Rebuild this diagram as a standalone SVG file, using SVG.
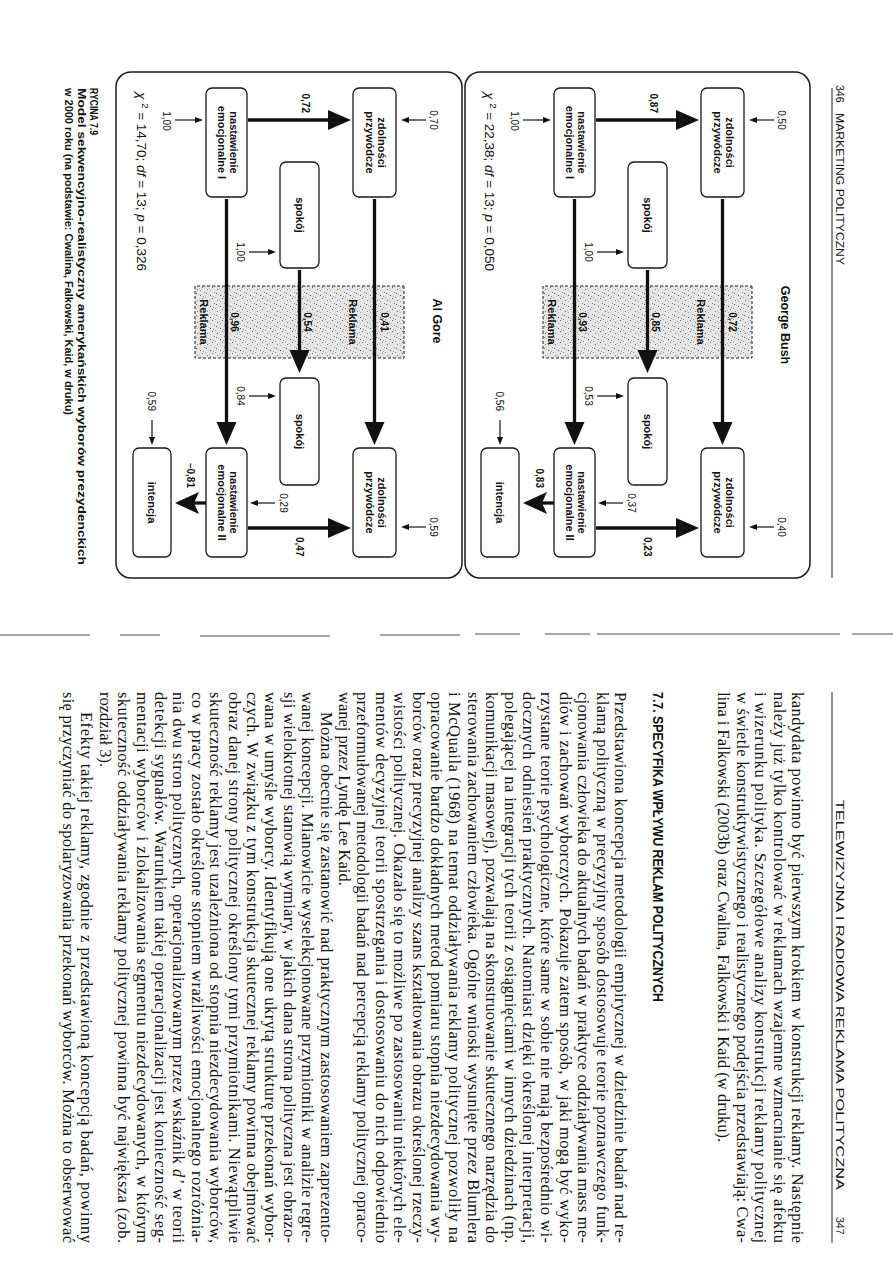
<svg xmlns="http://www.w3.org/2000/svg" width="893" height="1263" viewBox="0 0 893 1263">
<style>
.panel{fill:none;stroke:#1a1a1a;stroke-width:1.5}
.box{fill:#fff;stroke:#1a1a1a;stroke-width:1.3}
.bt{font-family:'Liberation Sans',Arial,sans-serif;font-weight:bold;font-size:11px;text-anchor:middle;fill:#111}
.coef{font-family:'Liberation Sans',Arial,sans-serif;font-weight:bold;font-size:10px;fill:#111}
.res{font-family:'Liberation Sans',Arial,sans-serif;font-size:10px;fill:#111}
.mid{text-anchor:middle}
.end{text-anchor:end}
.title{font-family:'Liberation Sans',Arial,sans-serif;font-weight:bold;font-size:12.5px;text-anchor:middle;fill:#111}
.chi{font-family:'Liberation Sans',Arial,sans-serif;font-size:13.5px;fill:#111}
.cap{font-family:'Liberation Sans',Arial,sans-serif;font-weight:bold;font-size:11.5px;fill:#111}
.hdr{font-family:'Liberation Sans',Arial,sans-serif;font-size:10.5px;fill:#111}
.body{font-family:'Liberation Serif','Times New Roman',serif;font-size:16.5px;fill:#111}
.head{font-family:'Liberation Sans',Arial,sans-serif;font-weight:bold;font-size:15.5px;fill:#111}
.thick{stroke:#111;stroke-width:3.3;fill:none}
.thin{stroke:#111;stroke-width:1.2;fill:none}
.rek{fill:url(#stip);stroke:#222;stroke-width:1;stroke-dasharray:3 2}
.rule{stroke:#222;stroke-width:1}
.gut{stroke:#8a8a8a;stroke-width:1.6}
</style>
<defs>
<marker id="big" markerUnits="userSpaceOnUse" markerWidth="24" markerHeight="22" refX="1" refY="11" orient="auto"><path d="M0,1 L23,11 L0,21 Z" fill="#111"/></marker>
<marker id="small" markerUnits="userSpaceOnUse" markerWidth="9" markerHeight="7" refX="1" refY="3.5" orient="auto"><path d="M0,0.5 L8,3.5 L0,6.5 Z" fill="#111"/></marker>
<pattern id="stip" width="11" height="10" patternUnits="userSpaceOnUse"><rect width="11" height="10" fill="#e6e6e6"/><rect x="1" y="2" width="1" height="1" fill="#666"/><rect x="6" y="0" width="1" height="1" fill="#888"/><rect x="9" y="4" width="1" height="1" fill="#555"/><rect x="3" y="7" width="1" height="1" fill="#777"/><rect x="0" y="9" width="1" height="1" fill="#999"/><rect x="7" y="8" width="1" height="1" fill="#666"/><rect x="4" y="4" width="1" height="1" fill="#aaa"/><rect x="10" y="1" width="1" height="1" fill="#999"/><rect x="2" y="5" width="1" height="1" fill="#bbb"/><rect x="8" y="6" width="1" height="1" fill="#bbb"/></pattern>
</defs>
<rect width="893" height="1263" fill="#fff"/>
<g id="gutter">
<line class="gut" x1="0" y1="635" x2="90" y2="635"/><line class="gut" x1="120" y1="635" x2="160" y2="635"/><line class="gut" x1="200" y1="636" x2="330" y2="636"/><line class="gut" x1="380" y1="635" x2="460" y2="635"/><line class="gut" x1="475" y1="634" x2="520" y2="634"/><line class="gut" x1="545" y1="634" x2="590" y2="634"/><line class="gut" x1="597" y1="634" x2="840" y2="634"/><line class="gut" x1="852" y1="634" x2="893" y2="634"/>
</g>
<g id="page" transform="translate(893,0) rotate(90)">
<g id="headers">
<text class="hdr" x="85" y="57">346</text>
<text class="hdr" x="113" y="57" textLength="152" lengthAdjust="spacingAndGlyphs">MARKETING POLITYCZNY</text>
<line class="rule" x1="88" y1="61" x2="578" y2="61"/>
<text class="hdr" x="800" y="57" textLength="390" lengthAdjust="spacingAndGlyphs">TELEWIZYJNA I RADIOWA REKLAMA POLITYCZNA</text>
<text class="hdr" x="1217" y="57">347</text>
<line class="rule" x1="692" y1="61" x2="1243" y2="61"/>
</g>
<g id="bush-panel">
<rect class="panel" x="72" y="83" width="506" height="345" rx="15"/>
<text class="title" x="325" y="112">George Bush</text>
<rect class="rek" x="286" y="141" width="72" height="209"/>
<text class="chi" x="92" y="408"><tspan font-style="italic">χ</tspan> <tspan font-size="9.5px" dy="-5">2</tspan><tspan dy="5"> = 22,38; </tspan><tspan font-style="italic">df</tspan> = 13; <tspan font-style="italic">p</tspan> = 0,050</text>
<g id="bush-connectors">
<line class="thick" x1="199" y1="170.5" x2="423" y2="170.5" marker-end="url(#big)"/>
<line class="thick" x1="270" y1="245.5" x2="351" y2="245.5" marker-end="url(#big)"/>
<line class="thick" x1="199" y1="318.5" x2="423" y2="318.5" marker-end="url(#big)"/>
<line class="thick" x1="120" y1="297" x2="120" y2="216" marker-end="url(#big)"/>
<line class="thick" x1="528" y1="297" x2="528" y2="216" marker-end="url(#big)"/>
<line class="thick" x1="503" y1="339" x2="503" y2="352"/>
<path d="M503,370 L492,346 L503,351 L514,346 Z" fill="#111"/>
<line class="thin" x1="120" y1="119" x2="120" y2="137" marker-end="url(#small)"/>
<line class="thin" x1="120" y1="370" x2="120" y2="349" marker-end="url(#small)"/>
<line class="thin" x1="252" y1="296" x2="252" y2="276" marker-end="url(#small)"/>
<line class="thin" x1="396" y1="296" x2="396" y2="276" marker-end="url(#small)"/>
<line class="thin" x1="503" y1="270" x2="503" y2="288" marker-end="url(#small)"/>
<line class="thin" x1="527" y1="119" x2="527" y2="137" marker-end="url(#small)"/>
<line class="thin" x1="420" y1="393" x2="438" y2="393" marker-end="url(#small)"/>
<text class="coef mid" x="322" y="164.5">0,72</text>
<text class="coef mid" x="322" y="241">0,85</text>
<text class="coef mid" x="322" y="314.5">0,93</text>
<text class="bt" x="322" y="196">Reklama</text>
<text class="bt" x="322" y="345">Reklama</text>
<text class="coef end" x="113" y="243">0,87</text>
<text class="coef" x="537" y="249">0,23</text>
<text class="coef end" x="488" y="357">0,83</text>
<text class="res mid" x="120" y="115">0,50</text>
<text class="res mid" x="121" y="382">1,00</text>
<text class="res mid" x="252" y="308">1,00</text>
<text class="res mid" x="396" y="308">0,53</text>
<text class="res mid" x="503" y="265">0,37</text>
<text class="res mid" x="527" y="115">0,40</text>
<text class="res end" x="411" y="397">0,56</text>
</g>
<g id="bush-zdolnosci-1"><rect class="box" x="88" y="149" width="109" height="43" rx="6"/><text class="bt" x="142.5" y="167.5">zdolności</text><text class="bt" x="142.5" y="179.5">przywódcze</text></g>
<g id="bush-nastawienie-1"><rect class="box" x="88" y="298" width="109" height="41" rx="6"/><text class="bt" x="142.5" y="315.5">nastawienie</text><text class="bt" x="142.5" y="327.5">emocjonalne I</text></g>
<g id="bush-spokoj-1"><rect class="box" x="162" y="226" width="106" height="39" rx="6"/><text class="bt" x="215" y="249">spokój</text></g>
<g id="bush-spokoj-2"><rect class="box" x="378" y="226" width="107" height="39" rx="6"/><text class="bt" x="431.5" y="249">spokój</text></g>
<g id="bush-zdolnosci-2"><rect class="box" x="448" y="149" width="109" height="43" rx="6"/><text class="bt" x="502.5" y="167.5">zdolności</text><text class="bt" x="502.5" y="179.5">przywódcze</text></g>
<g id="bush-nastawienie-2"><rect class="box" x="448" y="298" width="109" height="41" rx="6"/><text class="bt" x="502.5" y="315.5">nastawienie</text><text class="bt" x="502.5" y="327.5">emocjonalne II</text></g>
<g id="bush-intencja"><rect class="box" x="448" y="374" width="109" height="38" rx="6"/><text class="bt" x="502.5" y="397">intencja</text></g>
</g>
<g id="gore-panel" transform="translate(0,348)">
<rect class="panel" x="72" y="83" width="506" height="346" rx="15"/>
<text class="title" x="321" y="112">Al Gore</text>
<rect class="rek" x="286" y="141" width="72" height="209"/>
<text class="chi" x="92" y="408"><tspan font-style="italic">χ</tspan> <tspan font-size="9.5px" dy="-5">2</tspan><tspan dy="5"> = 14,70; </tspan><tspan font-style="italic">df</tspan> = 13; <tspan font-style="italic">p</tspan> = 0,326</text>
<g id="gore-connectors">
<line class="thick" x1="199" y1="170.5" x2="423" y2="170.5" marker-end="url(#big)"/>
<line class="thick" x1="270" y1="245.5" x2="351" y2="245.5" marker-end="url(#big)"/>
<line class="thick" x1="199" y1="318.5" x2="423" y2="318.5" marker-end="url(#big)"/>
<line class="thick" x1="120" y1="297" x2="120" y2="216" marker-end="url(#big)"/>
<line class="thick" x1="528" y1="297" x2="528" y2="216" marker-end="url(#big)"/>
<line class="thick" x1="503" y1="339" x2="503" y2="352"/>
<path d="M503,370 L492,346 L503,351 L514,346 Z" fill="#111"/>
<line class="thin" x1="120" y1="119" x2="120" y2="137" marker-end="url(#small)"/>
<line class="thin" x1="120" y1="370" x2="120" y2="349" marker-end="url(#small)"/>
<line class="thin" x1="252" y1="296" x2="252" y2="276" marker-end="url(#small)"/>
<line class="thin" x1="396" y1="296" x2="396" y2="276" marker-end="url(#small)"/>
<line class="thin" x1="503" y1="270" x2="503" y2="288" marker-end="url(#small)"/>
<line class="thin" x1="527" y1="119" x2="527" y2="137" marker-end="url(#small)"/>
<line class="thin" x1="420" y1="393" x2="438" y2="393" marker-end="url(#small)"/>
<text class="coef mid" x="322" y="164.5">0,41</text>
<text class="coef mid" x="322" y="241">0,54</text>
<text class="coef mid" x="322" y="314.5">0,96</text>
<text class="bt" x="322" y="196">Reklama</text>
<text class="bt" x="322" y="345">Reklama</text>
<text class="coef end" x="113" y="243">0,72</text>
<text class="coef" x="537" y="249">0,47</text>
<text class="coef end" x="488" y="358">–0,81</text>
<text class="res mid" x="120" y="115">0,70</text>
<text class="res mid" x="121" y="382">1,00</text>
<text class="res mid" x="252" y="308">1,00</text>
<text class="res mid" x="396" y="308">0,84</text>
<text class="res mid" x="503" y="265">0,29</text>
<text class="res mid" x="527" y="115">0,59</text>
<text class="res end" x="411" y="397">0,59</text>
</g>
<g id="gore-zdolnosci-1"><rect class="box" x="88" y="149" width="109" height="43" rx="6"/><text class="bt" x="142.5" y="167.5">zdolności</text><text class="bt" x="142.5" y="179.5">przywódcze</text></g>
<g id="gore-nastawienie-1"><rect class="box" x="88" y="298" width="109" height="41" rx="6"/><text class="bt" x="142.5" y="315.5">nastawienie</text><text class="bt" x="142.5" y="327.5">emocjonalne I</text></g>
<g id="gore-spokoj-1"><rect class="box" x="162" y="226" width="106" height="39" rx="6"/><text class="bt" x="215" y="249">spokój</text></g>
<g id="gore-spokoj-2"><rect class="box" x="378" y="226" width="107" height="39" rx="6"/><text class="bt" x="431.5" y="249">spokój</text></g>
<g id="gore-zdolnosci-2"><rect class="box" x="448" y="149" width="109" height="43" rx="6"/><text class="bt" x="502.5" y="167.5">zdolności</text><text class="bt" x="502.5" y="179.5">przywódcze</text></g>
<g id="gore-nastawienie-2"><rect class="box" x="448" y="298" width="109" height="41" rx="6"/><text class="bt" x="502.5" y="315.5">nastawienie</text><text class="bt" x="502.5" y="327.5">emocjonalne II</text></g>
<g id="gore-intencja"><rect class="box" x="448" y="374" width="109" height="38" rx="6"/><text class="bt" x="502.5" y="397">intencja</text></g>
</g>
<g id="caption">
<text class="cap" x="88" y="803" textLength="47" lengthAdjust="spacingAndGlyphs">RYCINA 7.9</text>
<text class="cap" x="88" y="815.5" textLength="477" lengthAdjust="spacingAndGlyphs">Model sekwencyjno-realistyczny amerykańskich wyborów prezydenckich</text>
<text class="cap" x="88" y="828" textLength="327" lengthAdjust="spacingAndGlyphs">w 2000 roku (na podstawie: Cwalina, Falkowski, Kaid, w druku)</text>
</g>
<g id="text-347">
<text class="body" x="692" y="101" textLength="551" lengthAdjust="spacing">kandydata powinno być pierwszym krokiem w konstrukcji reklamy. Następnie</text>
<text class="body" x="692" y="119.4" textLength="551" lengthAdjust="spacing">należy już tylko kontrolować w reklamach wzajemne wzmacnianie się afektu</text>
<text class="body" x="692" y="137.8" textLength="551" lengthAdjust="spacing">i wizerunku polityka. Szczegółowe analizy konstrukcji reklamy politycznej</text>
<text class="body" x="692" y="156.2" textLength="551" lengthAdjust="spacing">w świetle konstruktywistycznego i realistycznego podejścia przedstawiają: Cwa-</text>
<text class="body" x="692" y="174.6">lina i Falkowski (2003b) oraz Cwalina, Falkowski i Kaid (w druku).</text>
<text class="head" x="692" y="240" textLength="310" lengthAdjust="spacingAndGlyphs">7.7. SPECYFIKA WPŁYWU REKLAM POLITYCZNYCH</text>
<text class="body" x="692" y="278" textLength="551" lengthAdjust="spacing">Przedstawiona koncepcja metodologii empirycznej w dziedzinie badań nad re-</text>
<text class="body" x="692" y="296.4" textLength="551" lengthAdjust="spacing">klamą polityczną w precyzyjny sposób dostosowuje teorie poznawczego funk-</text>
<text class="body" x="692" y="314.8" textLength="551" lengthAdjust="spacing">cjonowania człowieka do aktualnych badań w praktyce oddziaływania mass me-</text>
<text class="body" x="692" y="333.2" textLength="551" lengthAdjust="spacing">diów i zachowań wyborczych. Pokazuje zatem sposób, w jaki mogą być wyko-</text>
<text class="body" x="692" y="351.6" textLength="551" lengthAdjust="spacing">rzystane teorie psychologiczne, które same w sobie nie mają bezpośrednio wi-</text>
<text class="body" x="692" y="370" textLength="551" lengthAdjust="spacing">docznych odniesień praktycznych. Natomiast dzięki określonej interpretacji,</text>
<text class="body" x="692" y="388.4" textLength="551" lengthAdjust="spacing">polegającej na integracji tych teorii z osiągnięciami w innych dziedzinach (np.</text>
<text class="body" x="692" y="406.8" textLength="551" lengthAdjust="spacing">komunikacji masowej), pozwalają na skonstruowanie skutecznego narzędzia do</text>
<text class="body" x="692" y="425.2" textLength="551" lengthAdjust="spacing">sterowania zachowaniem człowieka. Ogólne wnioski wysunięte przez Blumlera</text>
<text class="body" x="692" y="443.6" textLength="551" lengthAdjust="spacing">i McQuaila (1968) na temat oddziaływania reklamy politycznej pozwoliły na</text>
<text class="body" x="692" y="462" textLength="551" lengthAdjust="spacing">opracowanie bardzo dokładnych metod pomiaru stopnia niezdecydowania wy-</text>
<text class="body" x="692" y="480.4" textLength="551" lengthAdjust="spacing">borców oraz precyzyjnej analizy szans kształtowania obrazu określonej rzeczy-</text>
<text class="body" x="692" y="498.8" textLength="551" lengthAdjust="spacing">wistości politycznej. Okazało się to możliwe po zastosowaniu niektórych ele-</text>
<text class="body" x="692" y="517.2" textLength="551" lengthAdjust="spacing">mentów decyzyjnej teorii spostrzegania i dostosowaniu do nich odpowiednio</text>
<text class="body" x="692" y="535.6" textLength="551" lengthAdjust="spacing">przeformułowanej metodologii badań nad percepcją reklamy politycznej opraco-</text>
<text class="body" x="692" y="554">wanej przez Lyndę Lee Kaid.</text>
<text class="body" x="712" y="572.4" textLength="531" lengthAdjust="spacing">Można obecnie się zastanowić nad praktycznym zastosowaniem zaprezento-</text>
<text class="body" x="692" y="590.8" textLength="551" lengthAdjust="spacing">wanej koncepcji. Mianowicie wyselekcjonowane przymiotniki w analizie regre-</text>
<text class="body" x="692" y="609.2" textLength="551" lengthAdjust="spacing">sji wielokrotnej stanowią wymiary, w jakich dana strona polityczna jest obrazo-</text>
<text class="body" x="692" y="627.6" textLength="551" lengthAdjust="spacing">wana w umyśle wyborcy. Identyfikują one ukrytą strukturę przekonań wybor-</text>
<text class="body" x="692" y="646" textLength="551" lengthAdjust="spacing">czych. W związku z tym konstrukcja skutecznej reklamy powinna obejmować</text>
<text class="body" x="692" y="664.4" textLength="551" lengthAdjust="spacing">obraz danej strony politycznej określony tymi przymiotnikami. Niewątpliwie</text>
<text class="body" x="692" y="682.8" textLength="551" lengthAdjust="spacing">skuteczność reklamy jest uzależniona od stopnia niezdecydowania wyborców,</text>
<text class="body" x="692" y="701.2" textLength="551" lengthAdjust="spacing">co w pracy zostało określone stopniem wrażliwości emocjonalnego rozróżnia-</text>
<text class="body" x="692" y="719.6" textLength="551" lengthAdjust="spacing">nia dwu stron politycznych, operacjonalizowanym przez wskaźnik <tspan font-style="italic">d’</tspan> w teorii</text>
<text class="body" x="692" y="738" textLength="551" lengthAdjust="spacing">detekcji sygnałów. Warunkiem takiej operacjonalizacji jest konieczność seg-</text>
<text class="body" x="692" y="756.4" textLength="551" lengthAdjust="spacing">mentacji wyborców i zlokalizowania segmentu niezdecydowanych, w którym</text>
<text class="body" x="692" y="774.8" textLength="551" lengthAdjust="spacing">skuteczność oddziaływania reklamy politycznej powinna być największa (zob.</text>
<text class="body" x="692" y="793.2">rozdział 3).</text>
<text class="body" x="712" y="811.6" textLength="531" lengthAdjust="spacing">Efekty takiej reklamy, zgodnie z przedstawioną koncepcją badań, powinny</text>
<text class="body" x="692" y="830" textLength="551" lengthAdjust="spacing">się przyczyniać do spolaryzowania przekonań wyborców. Można to obserwować</text>
</g>
</g>
</svg>
